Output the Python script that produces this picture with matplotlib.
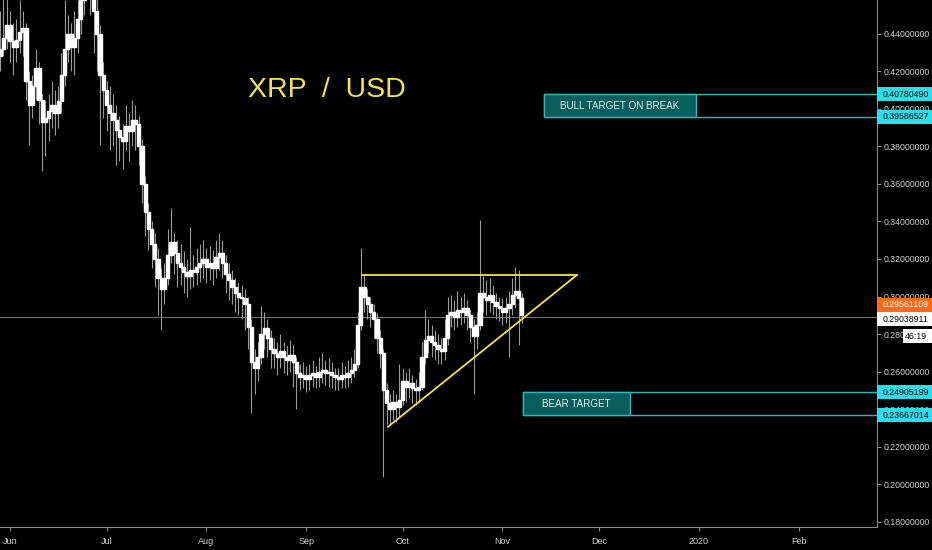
import numpy as np
import pandas as pd
import matplotlib
matplotlib.use("Agg")
import matplotlib.pyplot as plt
import matplotlib.dates as mdates
import matplotlib.transforms as mtransforms
from matplotlib.patches import Rectangle

plt.rcParams['font.family'] = ['Liberation Sans', 'DejaVu Sans']

# daily XRP/USD candles (first day 2019-05-29)
start_day = "2019-05-29"
first_open = 0.428
closes = [
    0.432, 0.438, 0.445, 0.436, 0.433, 0.437, 0.441, 0.443, 0.415, 0.402,
    0.412, 0.422, 0.405, 0.393, 0.395, 0.399, 0.402, 0.398, 0.404, 0.418,
    0.432, 0.440, 0.433, 0.438, 0.448, 0.458, 0.470, 0.478, 0.468, 0.452,
    0.440, 0.418, 0.410, 0.402, 0.398, 0.394, 0.389, 0.385, 0.383, 0.391,
    0.388, 0.394, 0.392, 0.380, 0.360, 0.345, 0.336, 0.328, 0.320, 0.310,
    0.304, 0.310, 0.322, 0.329, 0.323, 0.318, 0.316, 0.313, 0.311, 0.314,
    0.313, 0.316, 0.318, 0.320, 0.316, 0.318, 0.315, 0.321, 0.323, 0.318,
    0.312, 0.309, 0.305, 0.302, 0.300, 0.299, 0.296, 0.284, 0.265, 0.262,
    0.268, 0.280, 0.283, 0.278, 0.272, 0.270, 0.268, 0.271, 0.268, 0.266,
    0.269, 0.265, 0.259, 0.257, 0.258, 0.256, 0.258, 0.259, 0.257, 0.260,
    0.261, 0.259, 0.260, 0.258, 0.257, 0.256, 0.258, 0.257, 0.259, 0.261,
    0.264, 0.285, 0.305, 0.300, 0.296, 0.292, 0.288, 0.278, 0.270, 0.250,
    0.243, 0.240, 0.244, 0.241, 0.245, 0.255, 0.252, 0.254, 0.251, 0.250,
    0.252, 0.268, 0.277, 0.279, 0.276, 0.274, 0.272, 0.271, 0.278, 0.290,
    0.292, 0.289, 0.293, 0.292, 0.294, 0.290, 0.284, 0.279, 0.285, 0.302,
    0.300, 0.298, 0.301, 0.297, 0.295, 0.294, 0.292, 0.294, 0.296, 0.301,
    0.303, 0.299, 0.290,
]
highs = [
    0.452, 0.460, 0.462, 0.452, 0.446, 0.448, 0.458, 0.452, 0.446, 0.420,
    0.418, 0.432, 0.425, 0.408, 0.405, 0.408, 0.415, 0.410, 0.412, 0.430,
    0.458, 0.450, 0.446, 0.452, 0.458, 0.470, 0.490, 0.500, 0.490, 0.475,
    0.460, 0.445, 0.425, 0.415, 0.412, 0.408, 0.402, 0.396, 0.392, 0.402,
    0.398, 0.405, 0.402, 0.396, 0.384, 0.364, 0.350, 0.340, 0.334, 0.326,
    0.315, 0.318, 0.336, 0.347, 0.334, 0.330, 0.328, 0.324, 0.320, 0.337,
    0.322, 0.326, 0.328, 0.330, 0.326, 0.327, 0.325, 0.330, 0.334, 0.330,
    0.322, 0.318, 0.314, 0.310, 0.308, 0.306, 0.304, 0.300, 0.288, 0.272,
    0.276, 0.295, 0.292, 0.288, 0.282, 0.278, 0.276, 0.280, 0.276, 0.274,
    0.277, 0.274, 0.268, 0.264, 0.265, 0.263, 0.264, 0.266, 0.263, 0.268,
    0.270, 0.266, 0.267, 0.265, 0.262, 0.262, 0.265, 0.263, 0.266, 0.268,
    0.272, 0.292, 0.326, 0.312, 0.304, 0.300, 0.296, 0.291, 0.282, 0.272,
    0.254, 0.248, 0.250, 0.248, 0.264, 0.262, 0.260, 0.262, 0.258, 0.256,
    0.260, 0.276, 0.293, 0.288, 0.285, 0.282, 0.280, 0.278, 0.288, 0.300,
    0.301, 0.298, 0.303, 0.300, 0.302, 0.298, 0.293, 0.288, 0.292, 0.341,
    0.311, 0.309, 0.310, 0.306, 0.302, 0.300, 0.299, 0.300, 0.303, 0.310,
    0.316, 0.314, 0.302,
]
lows = [
    0.420, 0.428, 0.432, 0.425, 0.418, 0.425, 0.430, 0.428, 0.405, 0.381,
    0.395, 0.405, 0.392, 0.367, 0.375, 0.383, 0.390, 0.386, 0.390, 0.398,
    0.412, 0.425, 0.420, 0.418, 0.430, 0.440, 0.450, 0.460, 0.450, 0.430,
    0.420, 0.381, 0.395, 0.388, 0.378, 0.380, 0.370, 0.372, 0.368, 0.378,
    0.372, 0.380, 0.378, 0.370, 0.350, 0.332, 0.325, 0.315, 0.305, 0.290,
    0.282, 0.296, 0.306, 0.318, 0.312, 0.305, 0.306, 0.302, 0.300, 0.304,
    0.305, 0.306, 0.308, 0.310, 0.307, 0.309, 0.306, 0.310, 0.314, 0.310,
    0.302, 0.298, 0.296, 0.292, 0.290, 0.288, 0.282, 0.272, 0.238, 0.248,
    0.255, 0.264, 0.272, 0.268, 0.262, 0.262, 0.258, 0.262, 0.259, 0.258,
    0.260, 0.252, 0.240, 0.250, 0.251, 0.249, 0.250, 0.252, 0.251, 0.252,
    0.254, 0.253, 0.252, 0.251, 0.250, 0.250, 0.251, 0.251, 0.252, 0.254,
    0.257, 0.262, 0.282, 0.292, 0.288, 0.284, 0.278, 0.270, 0.262, 0.204,
    0.232, 0.232, 0.234, 0.233, 0.236, 0.242, 0.244, 0.246, 0.243, 0.242,
    0.244, 0.250, 0.264, 0.270, 0.268, 0.266, 0.264, 0.264, 0.266, 0.274,
    0.284, 0.282, 0.284, 0.285, 0.286, 0.282, 0.276, 0.248, 0.272, 0.282,
    0.292, 0.290, 0.292, 0.290, 0.288, 0.287, 0.285, 0.286, 0.268, 0.290,
    0.294, 0.274, 0.286,
]

# drawn levels
bull_top, bull_bottom = 0.40780490, 0.39586527
bear_top, bear_bottom = 0.24905199, 0.23667014
resistance = 0.3113
support_start = ("2019-09-26 10:00", 0.2305)
apex = ("2019-11-24", 0.3113)
resist_start = "2019-09-18 08:00"
last_price = 0.29038911
orange_price = 0.29561109
countdown = "46:19"

month_ticks = ["2019-06-01", "2019-07-01", "2019-08-01", "2019-09-01", "2019-10-01",
               "2019-11-01", "2019-12-01", "2020-01-01", "2020-02-01"]
month_labels = ["Jun", "Jul", "Aug", "Sep", "Oct", "Nov", "Dec", "2020", "Feb"]
price_ticks = [0.18, 0.20, 0.22, 0.24, 0.26, 0.28, 0.30, 0.32, 0.34, 0.36, 0.38, 0.40, 0.42, 0.44]

days = mdates.date2num(pd.date_range(start_day, periods=len(closes), freq="D"))
opens = np.array([first_open] + closes[:-1])
closes = np.array(closes)

W, H = 932, 550
fig = plt.figure(figsize=(W / 100, H / 100), dpi=100, facecolor="black")
ax = fig.add_axes([0, 23 / H, 877 / W, 527 / H], facecolor="black")

# candles
ax.vlines(days, lows, highs, color="#9a9a9a", lw=0.8, zorder=2)
ax.bar(days, closes - opens, bottom=opens, width=1.0, color="white",
       edgecolor="white", linewidth=1.0, zorder=3)

# last price line (TradingView draws it a touch below the label)
ax.axhline(0.28885, color="#7a7a7a", lw=0.7, zorder=1)

# triangle
d = lambda s: mdates.date2num(pd.Timestamp(s))
ax.plot([d(resist_start), d(apex[0])], [resistance, apex[1]], color="#f2e63a", lw=1.3, zorder=4)
ax.plot([d(support_start[0]), d(apex[0])], [support_start[1], apex[1]], color="#f2e63a", lw=1.3, zorder=4)

# target zones
teal_edge = "#2bb8b8"
teal_fill = "#0b5e5e"
x_end = d("2020-03-10")


def zone(x0, x_lab, top, bottom, text):
    ax.add_patch(Rectangle((x0, bottom), x_end - x0, top - bottom, fill=False,
                           edgecolor=teal_edge, lw=1.0, zorder=5))
    ax.add_patch(Rectangle((x0, bottom), x_lab - x0, top - bottom, facecolor=teal_fill,
                           edgecolor=teal_edge, lw=1.0, zorder=6))
    ax.text((x0 + x_lab) / 2, (top + bottom) / 2, text, color="#dfeeee", fontsize=7.1,
            ha="center", va="center", zorder=7)


zone(d("2019-11-14"), d("2019-12-31"), bull_top, bull_bottom, "BULL TARGET ON BREAK")
zone(d("2019-11-07 12:00"), d("2019-12-10 12:00"), bear_top, bear_bottom, "BEAR TARGET")

ax.text(248 / 877, 0.829, "XRP  /  USD", transform=ax.transAxes, color="#f0e640",
        fontsize=20.5, ha="left", va="center")

# axes styling
ax.set_xlim(d("2019-05-28 22:00"), d("2020-02-25 08:00"))
ax.set_ylim(0.17707, 0.45813)
for side in ["left", "top"]:
    ax.spines[side].set_visible(False)
for side in ["right", "bottom"]:
    ax.spines[side].set_color("#8a8a8a")
    ax.spines[side].set_linewidth(0.8)

ax.yaxis.tick_right()
ax.set_yticks(price_ticks)
ax.set_yticklabels([f"{p:.8f}" for p in price_ticks])
ax.set_xticks([d(m) for m in month_ticks])
ax.set_xticklabels(month_labels)
ax.tick_params(axis="y", colors="#8a8a8a", labelcolor="#cfcfcf", labelsize=6.3, length=3, pad=2)
ax.tick_params(axis="x", colors="#8a8a8a", labelcolor="#cfcfcf", labelsize=6.5, length=3, pad=4)

# price labels on the right scale
blend = mtransforms.blended_transform_factory(fig.transFigure, ax.transData)
lab_h = 14 / 1875


def price_label(price, fc, tc, text=None, x0=877 / W, y=None):
    y = price if y is None else y
    ax.add_patch(Rectangle((x0, y - lab_h / 2), 1 - x0, lab_h, transform=blend,
                           facecolor=fc, edgecolor="none", clip_on=False, zorder=20))
    ax.text(x0 + 6 / W if text is None else x0 + 2 / W, y, text or f"{price:.8f}",
            transform=blend, color=tc, fontsize=6.3, ha="left", va="center",
            clip_on=False, zorder=21)


price_label(bull_top, "#27e0ec", "black")
price_label(bull_bottom, "#27e0ec", "black")
price_label(bear_top, "#27e0ec", "black")
price_label(bear_bottom, "#27e0ec", "black")
price_label(orange_price, "#ff6a13", "white")
# label pushed down below the orange one, as on the chart
price_label(last_price, "white", "black", y=0.28775)
price_label(0.2789, "white", "black", text=countdown, x0=903 / W)

fig.savefig("out.png", dpi=100, facecolor="black")
